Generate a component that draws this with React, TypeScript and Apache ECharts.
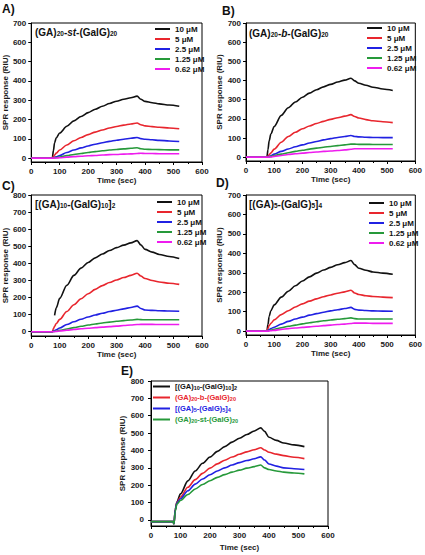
import React, { useEffect, useRef } from "react";
import * as echarts from "echarts";

const FONT = 'Arial, "Liberation Sans", Helvetica, sans-serif';

// ---- concentration series (panels A–D) ----
const concentrations = ["10 μM", "5 μM", "2.5 μM", "1.25 μM", "0.62 μM"];
const concColors = ["#111111", "#e8262e", "#2121e2", "#26993a", "#ee1cee"];

// sampling times (s) shared by all panels
const timeSec = [0, 74, 78, 82, 88, 100, 125, 150, 175, 200, 225, 250, 275, 300, 325, 350, 372, 385, 400, 425, 450, 485, 520];

// A) (GA)20-st-(GalG)20
const stBlack = [0, 0, 40, 80, 105, 130, 165, 193, 216, 236, 253, 269, 283, 295, 305, 313, 321, 305, 294, 287, 281, 275, 269];
const stRed = [0, 0, 8, 16, 26, 42, 68, 90, 107, 122, 135, 146, 156, 164, 171, 177, 182, 173, 167, 163, 160, 156, 152];
const stBlue = [0, 0, 2, 4, 7, 14, 29, 42, 53, 63, 72, 80, 87, 93, 98, 103, 107, 101, 98, 95, 92, 89, 86];
const stGreen = [0, 0, 1, 2, 3, 6, 13, 19, 24, 29, 34, 38, 42, 45, 48, 51, 54, 49, 46, 45, 44, 43, 43];
const stMagenta = [0, 0, 0, 0, 1, 2, 5, 8, 10, 12, 14, 16, 18, 19, 21, 22, 24, 25, 24, 24, 23, 23, 23];

// B) (GA)20-b-(GalG)20
const bBlack = [0, 0, 40, 85, 120, 160, 218, 258, 288, 313, 334, 352, 367, 380, 392, 402, 412, 398, 386, 375, 365, 356, 348];
const bRed = [0, 0, 6, 12, 22, 42, 78, 108, 130, 148, 163, 176, 187, 197, 206, 214, 222, 212, 204, 196, 190, 185, 180];
const bBlue = [0, 0, 2, 4, 7, 16, 30, 43, 54, 64, 74, 82, 90, 97, 103, 108, 113, 108, 106, 104, 103, 102, 102];
const bGreen = [0, 0, 0, 1, 3, 8, 16, 23, 30, 36, 42, 47, 52, 56, 60, 64, 68, 68, 67, 67, 66, 66, 66];
const bMagenta = [0, 0, 0, 0, 1, 4, 9, 14, 18, 21, 24, 27, 30, 32, 35, 38, 41, 44, 44, 44, 44, 44, 44];

// C) [(GA)10-(GalG)10]2
const c10Black = [0, 0, "-", 95, 140, 195, 272, 330, 372, 405, 432, 455, 475, 492, 507, 520, 533, 508, 482, 466, 452, 440, 428];
const c10Red = [0, 0, 18, 32, 48, 72, 118, 158, 193, 222, 248, 270, 288, 303, 317, 330, 342, 326, 311, 300, 291, 284, 277];
const c10Blue = [0, 0, 4, 7, 12, 22, 42, 58, 73, 86, 98, 108, 118, 126, 134, 142, 150, 136, 127, 125, 123, 121, 120];
const c10Green = [0, 0, 1, 2, 4, 8, 16, 24, 32, 39, 45, 51, 56, 61, 65, 69, 72, 71, 70, 70, 70, 70, 70];
const c10Magenta = [0, 0, 0, 1, 2, 4, 9, 13, 17, 20, 24, 27, 30, 33, 36, 39, 42, 43, 43, 43, 42, 42, 42];

// D) [(GA)5-(GalG)5]4
const d5Black = [0, 0, 35, 75, 105, 135, 175, 205, 233, 258, 279, 298, 314, 328, 341, 352, 363, 342, 323, 313, 304, 298, 292];
const d5Red = [0, 0, 14, 28, 40, 58, 85, 105, 124, 140, 154, 166, 177, 186, 195, 202, 210, 196, 188, 182, 178, 175, 172];
const d5Blue = [0, 0, 4, 8, 13, 20, 36, 50, 62, 72, 82, 90, 97, 104, 110, 116, 122, 112, 108, 106, 104, 103, 102];
const d5Green = [0, 0, 1, 3, 5, 9, 17, 25, 31, 37, 43, 48, 53, 57, 61, 64, 68, 64, 62, 62, 62, 62, 62];
const d5Magenta = [0, 0, 0, 1, 2, 4, 9, 13, 16, 19, 22, 25, 28, 31, 34, 36, 39, 41, 41, 41, 40, 40, 40];

// E) comparison of the four polymers at 10 μM
const compNames = ["[(GA)10-(GalG)10]2", "(GA)20-b-(GalG)20", "[(GA)5-(GalG)5]4", "(GA)20-st-(GalG)20"];
const compRich = [
  "[(GA){s|10}-(GalG){s|10}]{s|2}",
  "(GA){s|20}-b-(GalG){s|20}",
  "[(GA){s|5}-(GalG){s|5}]{s|4}",
  "(GA){s|20}-st-(GalG){s|20}",
];
const compColors = ["#111111", "#e8262e", "#2121e2", "#26993a"];
const comp10 = [-10, -10, -22, 60, 105, 150, 225, 282, 326, 362, 395, 422, 448, 470, 492, 512, 530, 510, 476, 458, 443, 432, 422];
const compB = [-10, -10, -22, 55, 100, 132, 188, 232, 268, 298, 323, 344, 362, 378, 392, 404, 416, 403, 390, 379, 370, 361, 353];
const comp5 = [-10, -10, -22, 55, 97, 122, 168, 206, 236, 260, 282, 300, 316, 330, 342, 352, 363, 345, 322, 310, 300, 295, 290];
const compSt = [-10, -10, -22, 50, 92, 112, 146, 178, 204, 226, 245, 261, 275, 287, 298, 307, 316, 300, 290, 282, 275, 270, 265];

// tick values
const xTicks = [0, 100, 200, 300, 400, 500, 600];
const yTicks700 = [0, 100, 200, 300, 400, 500, 600, 700];
const yTicks800 = [0, 100, 200, 300, 400, 500, 600, 700, 800];

const panelSets = [
  [stBlack, stRed, stBlue, stGreen, stMagenta],
  [bBlack, bRed, bBlue, bGreen, bMagenta],
  [c10Black, c10Red, c10Blue, c10Green, c10Magenta],
  [d5Black, d5Red, d5Blue, d5Green, d5Magenta],
];
const compSet = [comp10, compB, comp5, compSt];

export default function App() {
  const ref = useRef<HTMLDivElement>(null);

  useEffect(() => {
    if (!ref.current) return;
    const chart = echarts.init(ref.current, undefined, { renderer: "svg" });

    const grids = [
      { left: 31, top: 23, width: 171, height: 139 },
      { left: 246, top: 23, width: 171, height: 138 },
      { left: 31, top: 195, width: 171, height: 141 },
      { left: 246, top: 195, width: 171, height: 140 },
      { left: 151, top: 381, width: 177, height: 145 },
    ].map((g) => ({ ...g, show: true, borderColor: "#000", borderWidth: 1, backgroundColor: "transparent" }));

    const yRange = [
      [-20, 700, yTicks700],
      [-20, 700, yTicks700],
      [-25, 800, yTicks800],
      [-20, 700, yTicks700],
      [-35, 800, yTicks800],
    ] as const;

    const labelStyle = { fontSize: 8, fontWeight: "bold" as const, color: "#1a1a1a", fontFamily: FONT };

    const xAxes = grids.map((_, i) => ({
      gridIndex: i,
      type: "value",
      min: 0,
      max: 600,
      axisLine: { onZero: false, lineStyle: { color: "#000", width: 1 } },
      axisTick: { show: true, inside: false, length: 3, customValues: xTicks, lineStyle: { color: "#000" } },
      minorTick: { show: true, splitNumber: 2, length: 2, lineStyle: { color: "#000" } },
      splitLine: { show: false },
      axisLabel: { ...labelStyle, margin: 5, customValues: xTicks },
      name: "Time (sec)",
      nameLocation: "middle",
      nameGap: i === 4 ? 17 : 14,
      nameTextStyle: { ...labelStyle },
    }));

    const yAxes = grids.map((_, i) => ({
      gridIndex: i,
      type: "value",
      min: yRange[i][0],
      max: yRange[i][1],
      axisLine: { onZero: false, lineStyle: { color: "#000", width: 1 } },
      axisTick: { show: true, inside: false, length: 3, customValues: yRange[i][2], lineStyle: { color: "#000" } },
      splitLine: { show: false },
      axisLabel: { ...labelStyle, margin: i === 4 ? 7 : 5, customValues: yRange[i][2] },
      name: "SPR response (RIU)",
      nameLocation: "middle",
      nameGap: i === 4 ? 22 : 18,
      nameTextStyle: { ...labelStyle },
    }));

    const lineSeries = (name: string, color: string, axis: number, vals: (number | string)[]) => ({
      type: "line",
      name,
      xAxisIndex: axis,
      yAxisIndex: axis,
      symbol: "none",
      smooth: 0.3,
      smoothMonotone: "x",
      lineStyle: { width: 1.6, color },
      itemStyle: { color },
      data: timeSec.map((t, j) => [t, vals[j]]),
    });

    const series: any[] = [];
    panelSets.forEach((set, p) => {
      set.forEach((vals, k) => series.push(lineSeries(concentrations[k], concColors[k], p, vals)));
    });
    compSet.forEach((vals, k) => series.push(lineSeries(compNames[k], compColors[k], 4, vals)));

    // legend samples: flat 2px bars without the series stroke around them
    const iconStyle = { borderWidth: 0 };
    const iconLine = { width: 0 };

    const concLegend = (left: number, top: number) => ({
      left,
      top,
      orient: "vertical",
      padding: 0,
      icon: "rect",
      itemWidth: 15,
      itemHeight: 2,
      itemGap: 2,
      itemStyle: iconStyle,
      lineStyle: iconLine,
      selectedMode: false,
      data: concentrations,
      textStyle: { fontSize: 8, fontWeight: "bold", color: "#111", fontFamily: FONT, lineHeight: 8 },
    });

    const subRich = {
      s: { fontSize: 5.5, fontWeight: "bold", fontFamily: FONT, verticalAlign: "bottom", lineHeight: 6, padding: [3, 0, 0, 0] },
    };

    const legends = [
      concLegend(155, 25),
      concLegend(367, 24),
      concLegend(157, 198),
      concLegend(369, 199),
      {
        left: 153,
        top: 382,
        orient: "vertical",
        padding: 0,
        icon: "rect",
        itemWidth: 17,
        itemHeight: 2,
        itemGap: 2,
        itemStyle: iconStyle,
        lineStyle: iconLine,
        selectedMode: false,
        data: compNames.map((n, k) => ({ name: n, textStyle: { color: compColors[k] } })),
        formatter: (name: string) => compRich[compNames.indexOf(name)],
        textStyle: { fontSize: 7.5, fontWeight: "bold", fontFamily: FONT, lineHeight: 9, rich: subRich },
      },
    ];

    const titleRich = {
      s: { fontSize: 6.5, fontWeight: "bold", fontFamily: FONT, fill: "#111", verticalAlign: "bottom", lineHeight: 7, padding: [4, 0, 0, 0] },
      i: { fontSize: 10, fontWeight: "bold", fontStyle: "italic", fontFamily: FONT, fill: "#111" },
    };
    const titleText = (x: number, y: number, text: string) => ({
      type: "text",
      x,
      y,
      style: {
        text,
        fontSize: 10,
        fontWeight: "bold",
        fontFamily: FONT,
        fill: "#111",
        verticalAlign: "middle",
        textVerticalAlign: "middle",
        rich: titleRich,
      },
    });
    const letter = (x: number, y: number, text: string) => ({
      type: "text",
      x,
      y,
      style: { text, fontSize: 12, fontWeight: "bold", fontFamily: FONT, fill: "#111", verticalAlign: "middle", textVerticalAlign: "middle" },
    });

    chart.setOption({
      animation: false,
      backgroundColor: "#fff",
      grid: grids,
      xAxis: xAxes,
      yAxis: yAxes,
      legend: legends,
      series,
      graphic: [
        letter(2, 9, "A)"),
        letter(222, 11, "B)"),
        letter(2, 186, "C)"),
        letter(216, 183, "D)"),
        letter(121, 371, "E)"),
        titleText(35, 32, "(GA){s|20}-{i|st}-(GalG){s|20}"),
        titleText(249, 33, "(GA){s|20}-{i|b}-(GalG){s|20}"),
        titleText(35, 204, "[(GA){s|10}-(GalG){s|10}]{s|2}"),
        titleText(249, 204, "[(GA){s|5}-(GalG){s|5}]{s|4}"),
      ],
    });

    return () => chart.dispose();
  }, []);

  return (
    <div
      ref={ref}
      style={{ position: "absolute", left: 0, top: 0, width: 425, height: 555, background: "#fff" }}
    />
  );
}
